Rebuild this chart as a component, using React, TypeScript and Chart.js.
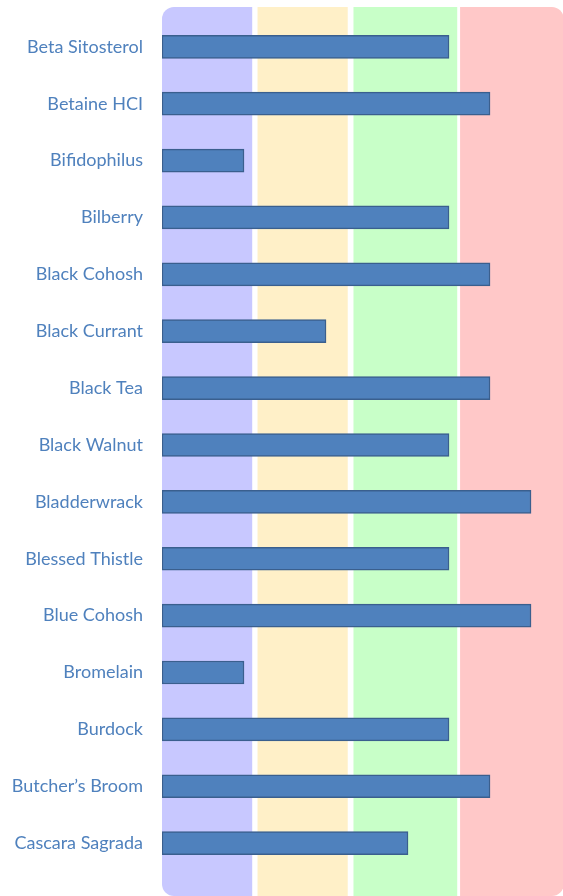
import React, { useEffect, useRef } from "react";
import { Chart, registerables } from "chart.js";

Chart.register(...registerables);

const categories = [
  "Beta Sitosterol",
  "Betaine HCI",
  "Bifidophilus",
  "Bilberry",
  "Black Cohosh",
  "Black Currant",
  "Black Tea",
  "Black Walnut",
  "Bladderwrack",
  "Blessed Thistle",
  "Blue Cohosh",
  "Bromelain",
  "Burdock",
  "Butcher\u2019s Broom",
  "Cascara Sagrada",
];

const values = [7, 8, 2, 7, 8, 4, 8, 7, 9, 7, 9, 2, 7, 8, 6];

// background zones in value units
const zoneStarts = [0, 2.33, 4.67, 7.27];
const zoneEnds = [2.2, 4.53, 7.2, 9.8];
const zoneColors = ["#C8C8FF", "#FFF0C8", "#C8FFC8", "#FFC8C8"];

const zonesPlugin = {
  id: "zones",
  beforeDatasetsDraw(chart: any) {
    const { ctx, chartArea, scales } = chart;
    const x = scales.x;
    ctx.save();
    ctx.beginPath();
    const l = x.getPixelForValue(zoneStarts[0]);
    const r = x.getPixelForValue(zoneEnds[zoneEnds.length - 1]);
    ctx.roundRect(l, chartArea.top, r - l, chartArea.bottom - chartArea.top, 12);
    ctx.clip();
    for (let i = 0; i < zoneStarts.length; i++) {
      const a = x.getPixelForValue(zoneStarts[i]);
      const b = x.getPixelForValue(zoneEnds[i]);
      ctx.fillStyle = zoneColors[i];
      ctx.fillRect(a, chartArea.top, b - a, chartArea.bottom - chartArea.top);
    }
    ctx.restore();
  },
};

export default function App() {
  const ref = useRef<HTMLCanvasElement>(null);
  useEffect(() => {
    if (!ref.current) return;
    const chart = new Chart(ref.current, {
      type: "bar",
      data: {
        datasets: [
          {
            data: values.map((v, i) => ({ x: v, y: i })),
            backgroundColor: "#4F81BD",
            borderColor: "#3A5F8E",
            borderWidth: 1.5,
            borderSkipped: false,
            barThickness: 23,
          },
        ],
      },
      options: {
        indexAxis: "y",
        animation: false,
        responsive: false,
        layout: { padding: { top: 7, right: 0, bottom: 0, left: 0 } },
        plugins: { legend: { display: false }, tooltip: { enabled: false } },
        scales: {
          x: { type: "linear", min: 0, max: 9.78, display: false, offset: false },
          y: {
            type: "linear",
            min: -0.7,
            max: 14.93,
            reverse: true,
            offset: false,
            grid: { display: false, drawTicks: false, tickLength: 0, offset: false },
            border: { display: false },
            afterBuildTicks: (scale: any) => {
              scale.ticks = categories.map((_, i) => ({ value: i }));
            },
            afterFit: (scale: any) => {
              scale.width = 162;
              scale.paddingTop = 0;
              scale.paddingBottom = 0;
            },
            ticks: {
              autoSkip: false,
              padding: 19,
              color: "#4F81BD",
              font: { family: "Lato", size: 18 },
              callback: (v: any) => categories[v as number] ?? "",
            },
          },
        },
      },
      plugins: [zonesPlugin],
    });
    return () => chart.destroy();
  }, []);
  return (
    <div style={{ position: "fixed", left: 0, top: 0, width: 563, height: 896 }}>
      <canvas ref={ref} width={563} height={896} style={{ display: "block" }} />
    </div>
  );
}
